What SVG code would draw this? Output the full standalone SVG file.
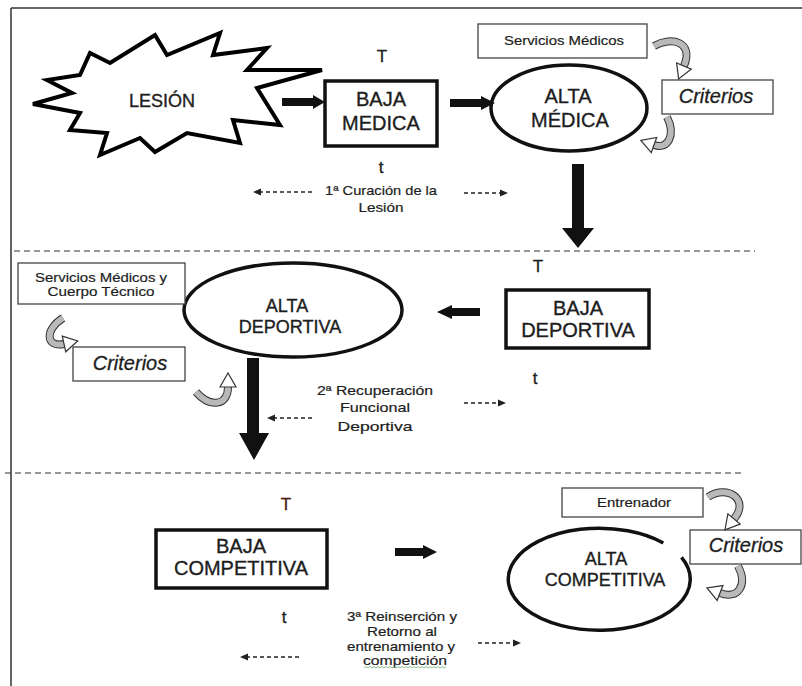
<svg xmlns="http://www.w3.org/2000/svg" width="802" height="686" viewBox="0 0 802 686">
<style>
  text { font-family: "Liberation Sans", Arial, sans-serif; fill: #1d1d1d; }
  .big { font-size: 20px; text-anchor: middle; stroke: #1d1d1d; stroke-width: 0.35; }
  .mid { font-size: 18px; text-anchor: middle; stroke: #1d1d1d; stroke-width: 0.35; }
  .lbl { font-size: 13.5px; text-anchor: middle; stroke: #1d1d1d; stroke-width: 0.2; }
  .crit { font-size: 20px; font-style: italic; text-anchor: middle; stroke: #1d1d1d; stroke-width: 0.3; }
  .tt { font-size: 17px; text-anchor: middle; stroke: #1d1d1d; stroke-width: 0.3; }
  .thick { fill: none; stroke: #111; stroke-width: 3.5; }
  .thin { fill: #fff; stroke: #444; stroke-width: 1.3; }
  .sep { stroke: #333; stroke-width: 1.2; stroke-dasharray: 6 4; fill: none; }
  .dash { stroke: #222; stroke-width: 1.3; stroke-dasharray: 4 3; fill: none; marker-end: url(#dh); }
  .solid { fill: #111; }
  .curvO { fill: none; stroke: #333; stroke-width: 8; }
  .curvI { fill: none; stroke: #b9b9b9; stroke-width: 6; marker-end: url(#ch); }
</style>
<defs>
  <marker id="dh" markerUnits="userSpaceOnUse" markerWidth="8" markerHeight="8" viewBox="0 0 8 8" refX="6" refY="4" orient="auto">
    <path d="M0,0.5 L8,4 L0,7.5 z" fill="#222"/>
  </marker>
  <marker id="ch" markerUnits="userSpaceOnUse" markerWidth="22" markerHeight="22" viewBox="0 0 22 22" refX="3" refY="11" orient="auto">
    <path d="M3,3 L17,11 L3,19 z" fill="#fff" stroke="#333" stroke-width="1.2"/>
  </marker>
</defs>

<!-- frame -->
<g id="frame">
  <path d="M11 8 H802 M11 8 V686" fill="none" stroke="#333" stroke-width="1.5"/>
</g>

<!-- separators -->
<g id="separators">
  <line class="sep" x1="14" y1="251" x2="755" y2="251"/>
  <line class="sep" x1="5" y1="473" x2="742" y2="473"/>
</g>

<!-- Section 1 -->
<g id="lesion">
  <polygon points="33,104 72,93 47,80 80,75 90,53 110,63 155,35 167,55 220,33 213,55 267,48 247,70 322,70 257,88 280,125 233,120 240,143 187,133 155,152 140,138 100,155 107,133 70,130 80,113" fill="#fff" stroke="#000" stroke-width="4" stroke-linejoin="miter"/>
  <text class="mid" x="162" y="107">LESIÓN</text>
</g>

<g id="baja-medica">
  <rect class="thick" x="325" y="81" width="112" height="65"/>
  <text class="big" x="381" y="106">BAJA</text>
  <text class="big" x="381" y="130">MEDICA</text>
  <text class="tt" x="382" y="62">T</text>
  <text class="tt" x="381" y="173">t</text>
</g>

<g id="alta-medica">
  <ellipse class="thick" cx="569" cy="108" rx="78" ry="43"/>
  <text class="big" x="568" y="103">ALTA</text>
  <text class="big" x="570" y="127" font-size="19.5">MÉDICA</text>
</g>

<g id="servicios-medicos">
  <rect class="thin" x="478" y="24" width="169" height="34"/>
  <text class="lbl" x="564" y="45" textLength="120" lengthAdjust="spacingAndGlyphs">Servicios Médicos</text>
</g>

<g id="criterios-1">
  <rect class="thin" x="662" y="80" width="111" height="34"/>
  <text class="crit" x="716" y="103">Criterios</text>
</g>

<g id="fase-1">
  <text class="lbl" x="381" y="195" textLength="112" lengthAdjust="spacingAndGlyphs">1ª Curación de la</text>
  <text class="lbl" x="381" y="212" textLength="45" lengthAdjust="spacingAndGlyphs">Lesión</text>
</g>

<!-- Section 2 -->
<g id="baja-deportiva">
  <rect class="thick" x="506" y="290" width="143" height="58"/>
  <text class="big" x="578" y="315" font-size="19.5">BAJA</text>
  <text class="big" x="578" y="337" font-size="19.5">DEPORTIVA</text>
  <text class="tt" x="538" y="272">T</text>
  <text class="tt" x="535" y="384">t</text>
</g>

<g id="alta-deportiva">
  <ellipse class="thick" cx="293" cy="310" rx="109" ry="47"/>
  <text class="mid" x="287" y="312">ALTA</text>
  <text class="mid" x="290" y="333">DEPORTIVA</text>
</g>

<g id="servicios-cuerpo">
  <rect class="thin" x="18" y="263" width="167" height="41"/>
  <text class="lbl" x="101" y="282" textLength="132" lengthAdjust="spacingAndGlyphs">Servicios Médicos y</text>
  <text class="lbl" x="101" y="296" textLength="107" lengthAdjust="spacingAndGlyphs">Cuerpo Técnico</text>
</g>

<g id="criterios-2">
  <rect class="thin" x="73" y="347" width="112" height="34"/>
  <text class="crit" x="130" y="370">Criterios</text>
</g>

<g id="fase-2">
  <text class="lbl" x="375" y="395" textLength="116" lengthAdjust="spacingAndGlyphs">2ª Recuperación</text>
  <text class="lbl" x="375" y="412" textLength="70" lengthAdjust="spacingAndGlyphs">Funcional</text>
  <text class="lbl" x="375" y="431" textLength="75" lengthAdjust="spacingAndGlyphs">Deportiva</text>
</g>

<!-- Section 3 -->
<g id="baja-competitiva">
  <rect class="thick" x="156" y="530" width="171" height="58"/>
  <text class="big" x="241" y="553" font-size="19">BAJA</text>
  <text class="big" x="241" y="575" font-size="19">COMPETITIVA</text>
  <text class="tt" x="286" y="510" style="fill:#4a1414;stroke:#4a1414">T</text>
  <text class="tt" x="284" y="623">t</text>
</g>

<g id="alta-competitiva">
  <path class="thick" d="M681.5 557.4 A91 51 0 1 1 663.3 543"/>
  <text class="mid" x="606" y="565">ALTA</text>
  <text class="mid" x="605" y="586" font-size="17.5">COMPETITIVA</text>
</g>

<g id="entrenador">
  <rect class="thin" x="562" y="488" width="141" height="29"/>
  <text class="lbl" x="634" y="507" textLength="74" lengthAdjust="spacingAndGlyphs">Entrenador</text>
</g>

<g id="criterios-3">
  <rect class="thin" x="690" y="530" width="111" height="34"/>
  <text class="crit" x="746" y="552">Criterios</text>
</g>

<g id="fase-3">
  <text class="lbl" x="402" y="621" textLength="110" lengthAdjust="spacingAndGlyphs">3ª Reinserción y</text>
  <text class="lbl" x="402" y="636" textLength="70" lengthAdjust="spacingAndGlyphs">Retorno al</text>
  <text class="lbl" x="401" y="651" textLength="108" lengthAdjust="spacingAndGlyphs">entrenamiento y</text>
  <text class="lbl" x="405" y="665" textLength="84" lengthAdjust="spacingAndGlyphs">competición</text>
  <path d="M364 668 l2 -1.5 l2 1.5 l2 -1.5 l2 1.5 l2 -1.5 l2 1.5 l2 -1.5 l2 1.5 l2 -1.5 l2 1.5 l2 -1.5 l2 1.5 l2 -1.5 l2 1.5 l2 -1.5 l2 1.5 l2 -1.5 l2 1.5 l2 -1.5 l2 1.5 l2 -1.5 l2 1.5 l2 -1.5 l2 1.5 l2 -1.5 l2 1.5 l2 -1.5 l2 1.5 l2 -1.5 l2 1.5 l2 -1.5 l2 1.5 l2 -1.5 l2 1.5 l2 -1.5 l2 1.5 l2 -1.5 l2 1.5 l2 -1.5 l2 1.5 l2 -1.5" fill="none" stroke="#7fb87f" stroke-width="0.9"/>
</g>

<!-- connectors -->
<g id="connectors">
  <polygon class="solid" points="282,98 313,98 313,95 325,102 313,109 313,106 282,106"/>
  <polygon class="solid" points="450,99 481,99 481,96 495,103 481,110 481,107 450,107"/>
  <polygon class="solid" points="572,164 584,164 584,228 594,228 578,248 562,228 572,228"/>
  <polygon class="solid" points="480,308 452,308 452,305 437,312 452,319 452,316 480,316"/>
  <polygon class="solid" points="247,358 259,358 259,433 269,433 254,460 239,433 247,433"/>
  <polygon class="solid" points="395,548 423,548 423,545 437,552 423,559 423,556 395,556"/>

  <line class="dash" x1="312" y1="192" x2="255" y2="192"/>
  <line class="dash" x1="464" y1="193" x2="506" y2="193"/>
  <line class="dash" x1="312" y1="418" x2="269" y2="418"/>
  <line class="dash" x1="464" y1="403" x2="504" y2="403"/>
  <line class="dash" x1="299" y1="657" x2="242" y2="657"/>
  <line class="dash" x1="478" y1="643" x2="519" y2="643"/>

  <path class="curvO" d="M654 46 C672 36, 694 42, 684 66"/>
  <path class="curvI" d="M654 46 C672 36, 694 42, 684 66"/>
  <path class="curvO" d="M667 117 C676 135, 668 150, 654 145"/>
  <path class="curvI" d="M667 117 C676 135, 668 150, 654 145"/>

  <path class="curvO" d="M63 318 C44 330, 46 348, 64 344"/>
  <path class="curvI" d="M63 318 C44 330, 46 348, 64 344"/>
  <path class="curvO" d="M196 392 C210 408, 228 406, 228 387"/>
  <path class="curvI" d="M196 392 C210 408, 228 406, 228 387"/>

  <path class="curvO" d="M708 497 C728 484, 750 500, 734 519"/>
  <path class="curvI" d="M708 497 C728 484, 750 500, 734 519"/>
  <path class="curvO" d="M738 566 C748 585, 738 600, 720 593"/>
  <path class="curvI" d="M738 566 C748 585, 738 600, 720 593"/>
</g>
</svg>
